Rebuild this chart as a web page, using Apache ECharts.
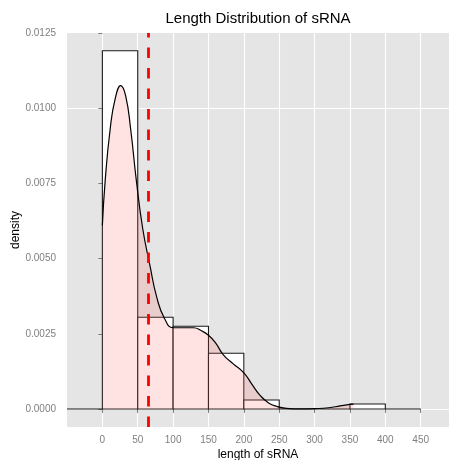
<!DOCTYPE html>
<html>
<head>
<meta charset="utf-8">
<script src="https://cdn.jsdelivr.net/npm/echarts@6/dist/echarts.min.js"></script>
<style>
  html, body { margin: 0; padding: 0; background: #fff; }
  #chart { width: 451px; height: 460px; }
</style>
</head>
<body>
<div id="chart"></div>
<script>
// histogram bins (binwidth 50), density per bin
const binStarts = [-50, 0, 50, 100, 150, 200, 250, 300, 350, 400];
const binWidth = 50;
const binDensity = [0, 0.01191, 0.00305, 0.00275, 0.00185, 0.0003, 0, 0, 0.000166, 0];

// kernel density curve
const densityX = [0, 4, 11, 18, 26, 33, 40, 48, 57, 67, 77, 88, 100, 115, 129, 140, 150, 160, 171, 185, 200, 212, 223, 235, 247, 260, 280, 300, 320, 336, 350, 355];
const densityY = [0.0061, 0.0076, 0.0093, 0.0103, 0.01075, 0.0104, 0.0093, 0.0076, 0.0060, 0.0048, 0.0037, 0.0030, 0.0027, 0.0027, 0.0027, 0.0026, 0.00245, 0.0022, 0.0018, 0.0015, 0.0012, 0.0008, 0.00045, 0.0002, 0.00008, 0.00002, 0, 0.00001, 0.00004, 0.0001, 0.00015, 0.00016];

const meanLength = 65;

const xTicks = [0, 50, 100, 150, 200, 250, 300, 350, 400, 450];
const yTicks = [0, 0.0025, 0.005, 0.0075, 0.01, 0.0125];
const yMinor = [0.00125, 0.00375, 0.00625, 0.00875, 0.01125];

const chart = echarts.init(document.getElementById('chart'));

const labelColor = '#7f7f7f';
const font = 'Liberation Sans, Arial, sans-serif';

function gridLines(axis, values, color, width) {
  return values.map((v) => ({ [axis]: v, lineStyle: { color: color, width: width, type: 'solid' } }));
}

const option = {
  animation: false,
  textStyle: { fontFamily: font },
  grid: {
    left: 67, right: 2, top: 33, bottom: 33,
    outerBoundsMode: 'none', containLabel: false,
    show: true, backgroundColor: '#e5e5e5', borderWidth: 0,
  },
  graphic: [{
    type: 'text', x: 258, y: 11,
    style: {
      text: 'Length Distribution of sRNA',
      fill: '#000', font: '15px ' + font, textAlign: 'center',
    },
  }],
  xAxis: {
    type: 'value', min: -50, max: 490,
    axisLine: { show: false },
    axisTick: { customValues: xTicks, length: 4, lineStyle: { color: labelColor } },
    axisLabel: { customValues: xTicks, color: labelColor, fontSize: 10, margin: 8 },
    splitLine: { show: false },
    name: 'length of sRNA', nameLocation: 'middle', nameGap: 22, nameMoveOverlap: false,
    nameTextStyle: { color: '#000', fontSize: 12 },
  },
  yAxis: {
    type: 'value', min: -0.0006, max: 0.0125,
    axisLine: { show: false },
    axisTick: { customValues: yTicks, length: 4, lineStyle: { color: labelColor } },
    axisLabel: {
      customValues: yTicks, color: labelColor, fontSize: 10, margin: 11,
      formatter: (v) => v.toFixed(4),
    },
    splitLine: { show: false },
    name: 'density', nameLocation: 'middle', nameGap: 45, nameRotate: 90, nameMoveOverlap: false,
    nameTextStyle: { color: '#000', fontSize: 12 },
  },
  series: [
    {
      // background grid
      type: 'line', data: [], z: 0, silent: true,
      markLine: {
        z: 0, silent: true, symbol: 'none', label: { show: false },
        data: [].concat(
          gridLines('yAxis', yMinor, '#f2f2f2', 0.6),
          gridLines('yAxis', yTicks, '#ffffff', 1.1),
          gridLines('xAxis', xTicks, '#ffffff', 1.1)
        ),
      },
    },
    {
      type: 'custom', z: 2,
      data: binStarts.map((s, i) => [s, s + binWidth, binDensity[i]]),
      renderItem: (params, api) => {
        const p0 = api.coord([api.value(0), api.value(2)]);
        const p1 = api.coord([api.value(1), 0]);
        return {
          type: 'rect',
          shape: { x: p0[0], y: p0[1], width: p1[0] - p0[0], height: p1[1] - p0[1] },
          style: { fill: '#ffffff', stroke: '#1a1a1a', lineWidth: 1.1 },
        };
      },
    },
    {
      type: 'line', z: 3,
      data: densityX.map((x, i) => [x, densityY[i]]),
      showSymbol: false, smooth: 0.5,
      lineStyle: { color: '#000', width: 1.2 },
      areaStyle: { color: 'rgba(255, 90, 90, 0.25)' },
    },
    {
      type: 'line', data: [], z: 4,
      markLine: {
        z: 6, silent: true, symbol: 'none', label: { show: false },
        data: [{ xAxis: meanLength }],
        lineStyle: { color: '#ff0000', width: 2.8, type: [10.5, 10] },
      },
    },
  ],
};

chart.setOption(option);
</script>
</body>
</html>
